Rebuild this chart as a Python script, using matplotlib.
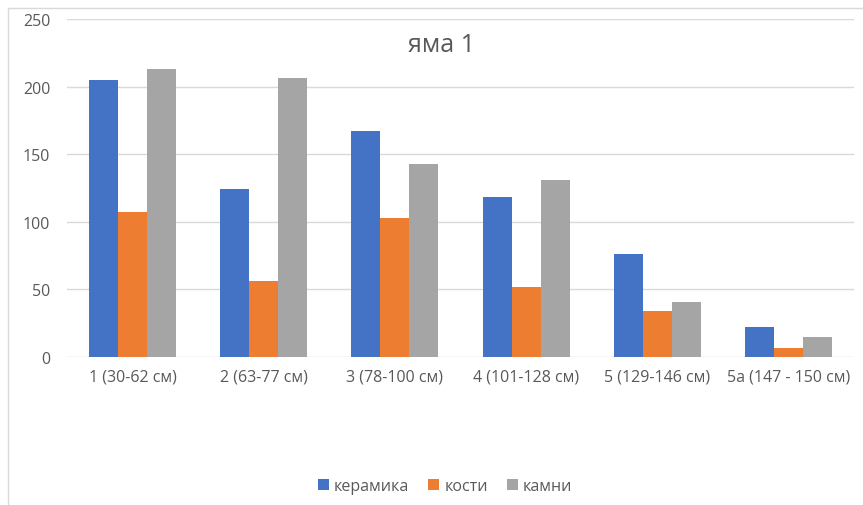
import matplotlib.pyplot as plt
import numpy as np
from matplotlib.patches import Rectangle

plt.rcParams['font.family'] = ['Open Sans', 'DejaVu Sans']

# данные
categories = ['1 (30-62 см)', '2 (63-77 см)', '3 (78-100 см)',
              '4 (101-128 см)', '5 (129-146 см)', '5а (147 - 150 см)']
keramika = [205, 124, 167, 118, 76, 22]
kosti = [107, 56, 103, 52, 34, 7]
kamni = [213, 206, 143, 131, 41, 15]
series_names = ['керамика', 'кости', 'камни']
colors = ['#4472C4', '#ED7D31', '#A5A5A5']

fig = plt.figure(figsize=(8.63, 5.06), dpi=100)
ax = fig.add_axes([0.0776, 0.2925, 0.912, 0.668])

x = np.arange(len(categories))
w = 0.221
for i, (vals, name, c) in enumerate(zip([keramika, kosti, kamni], series_names, colors)):
    ax.bar(x + (i - 1) * w, vals, w, color=c, label=name, zorder=3)

ax.set_xlim(-0.5, len(categories) - 0.5)
ax.set_ylim(0, 250)
ax.set_yticks(range(0, 251, 50))
ax.set_xticks(x)
ax.set_xticklabels(categories)
ax.grid(axis='y', color='#D9D9D9', linewidth=1, zorder=0)
for s in ax.spines.values():
    s.set_visible(False)
ax.tick_params(length=0, labelsize=11.5, labelcolor='#595959')
ax.tick_params(axis='y', pad=12)
ax.tick_params(axis='x', pad=8)

fig.text(441 / 863, 1 - 45 / 506, 'яма 1', ha='center', va='center',
         fontsize=18, color='#595959')

fig.legend(loc='center', bbox_to_anchor=(445 / 863, 1 - 487 / 506), ncol=3,
           frameon=False, fontsize=11.5, labelcolor='#595959',
           handlelength=0.7, handleheight=0.7, handletextpad=0.3, columnspacing=1.2)

# рамка диаграммы
fig.patches.append(Rectangle((8 / 863, -0.1), 1.2, 1 - 9 / 506 + 0.1,
                             transform=fig.transFigure, fill=False,
                             edgecolor='#D9D9D9', linewidth=1))

fig.savefig('out.png', dpi=100)
